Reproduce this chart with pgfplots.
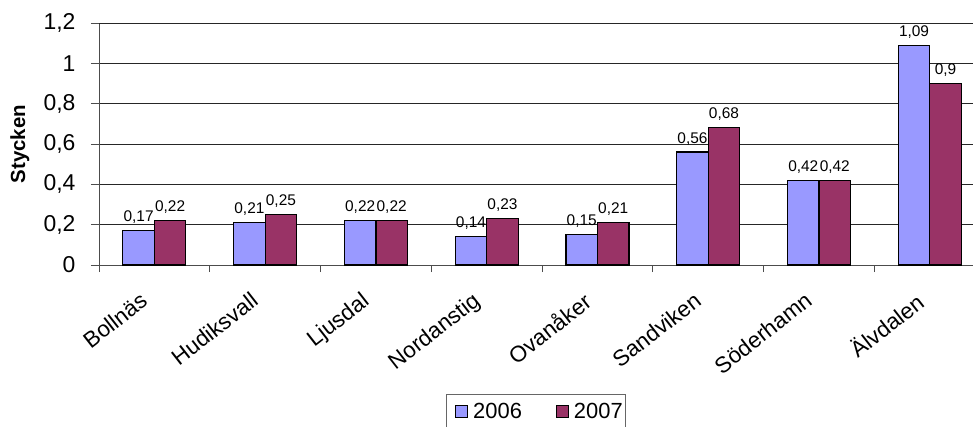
\documentclass[border=0pt]{standalone}
\usepackage{fontspec}
\setmainfont{Liberation Sans}
\usepackage{pgfplots}
\pgfplotsset{compat=1.18}
\definecolor{c06}{HTML}{9999FF}
\definecolor{c07}{HTML}{993366}
\pgfkeys{/pgf/number format/.cd, use comma, fixed, assume math mode=true}
\begin{document}
\begin{tikzpicture}
\begin{axis}[
  at={(0,0)}, anchor=south west,
  scale only axis,
  width=874bp, height=242bp,
  xmin=-0.5, xmax=7.39,
  ymin=0, ymax=1.2,
  axis lines*=left,
  axis line style={draw=black!70, line width=0.9bp},
  ybar=0pt, bar width=31.5bp,
  xtick={0,...,7},
  xticklabels={Bollnäs,Hudiksvall,Ljusdal,Nordanstig,Ovanåker,Sandviken,Söderhamn,Älvdalen},
  minor xtick={-0.5,0.5,1.5,2.5,3.5,4.5,5.5,6.5},
  major x tick style={draw=none},
  minor tick style={draw=black!70, line width=0.9bp},
  major tick style={draw=black!70, line width=0.9bp},
  tick align=outside,
  major tick length=8bp, minor tick length=7bp,
  ytick={0,0.2,0.4,0.6,0.8,1},
  extra y ticks={1.2},
  extra y tick style={grid style={draw=black!45, line width=0.9bp}},
  ymajorgrids,
  major grid style={draw=black!85, line width=0.8bp},
  yticklabel style={font=\fontsize{23}{27}\selectfont, xshift=-12bp},
  xticklabel style={font=\fontsize{22.5}{26}\selectfont, anchor=north east, xshift=-15bp, yshift=-13bp, rotate=38},
  ylabel={Stycken},
  ylabel style={font=\fontsize{20.5}{24}\selectfont\bfseries, at={(axis description cs:-0.0905,0.5)}, anchor=center, rotate=0},
  nodes near coords,
  every node near coord/.append style={font=\fontsize{15.5}{18}\selectfont, yshift=3bp, text=black},
  legend style={at={(0.5,-0.533)}, anchor=north, legend columns=2, draw=black!60, line width=0.8bp,
    font=\fontsize{22}{26}\selectfont, inner xsep=1bp, inner ysep=7bp,
    /tikz/every even column/.append style={column sep=24bp}},
  legend image code/.code={\draw[#1, line width=1bp] (8bp,-6bp) rectangle (20bp,6bp); \path[draw=none, fill=none] (0bp,0bp) -- (24bp,0bp);},
]
\addplot[fill=c06, draw=black, line width=1.2bp] coordinates {(0,0.17) (1,0.21) (2,0.22) (3,0.14) (4,0.15) (5,0.56) (6,0.42) (7,1.09)};
\addplot[fill=c07, draw=black, line width=1.2bp] coordinates {(0,0.22) (1,0.25) (2,0.22) (3,0.23) (4,0.21) (5,0.68) (6,0.42) (7,0.9)};
\legend{2006,2007}
\end{axis}
\pgfresetboundingbox
\path[use as bounding box] (-99bp,-162bp) rectangle (874bp,265bp);
\end{tikzpicture}
\end{document}
